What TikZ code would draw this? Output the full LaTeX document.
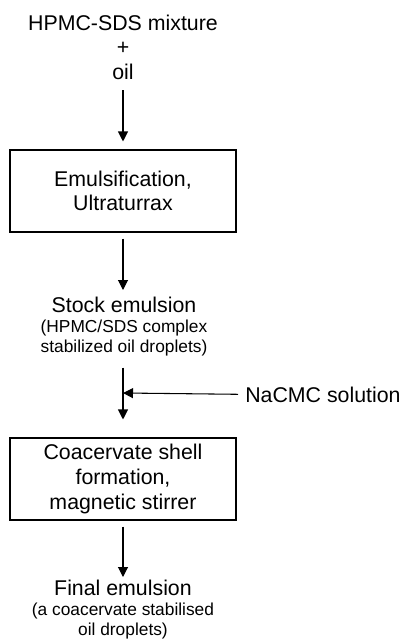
\documentclass[tikz,border=0pt]{standalone}
\usepackage{fontspec}
\setmainfont{Liberation Sans}
\usetikzlibrary{arrows.meta}

\begin{document}
\begin{tikzpicture}[x=0.75pt,y=-0.75pt]
\tikzstyle{every node}+=[inner sep=0pt, align=center, font=\fontsize{16}{18.5}\selectfont]
\tikzstyle{stepbox}=[draw, line width=0.8pt, minimum width=169.5pt, minimum height=61.5pt]
\tikzstyle{smalltext}=[font=\fontsize{13}{15}\selectfont]
\tikzstyle{arr}=[line width=0.8pt, -{Triangle[length=7.5pt,width=7.5pt]}]
\useasboundingbox (0,0) rectangle (413,639);
\node [anchor=south] (src) at (123,80) {HPMC-SDS mixture\\+\\oil};
\node [stepbox] (emul) at (123,191) {Emulsification,\\Ultraturrax};
\node [smalltext, anchor=north] (stock) at (124,297) {{\fontsize{16}{15}\selectfont Stock emulsion}\\(HPMC/SDS complex\\stabilized oil droplets)};
\node [anchor=base west] (nacmc) at (245,402) {NaCMC solution};
\coordinate (join) at (123,393);
\node [stepbox] (coac) at (123,479) {Coacervate shell\\formation,\\magnetic stirrer};
\node [smalltext, anchor=north] (final) at (123,580) {{\fontsize{16}{15}\selectfont Final emulsion}\\(a coacervate stabilised\\oil droplets)};
% arrows
\draw [arr, shorten <=7.5pt, shorten >=6pt] (src.south) -- (emul.north);
\draw [arr, shorten <=4.5pt, shorten >=5.25pt] (emul.south) -- (emul.south |- stock.north);
\draw [arr, shorten <=8.25pt, shorten >=13.5pt] (emul.south |- stock.south) -- (coac.north);
\draw [arr, shorten <=5.25pt] (nacmc.west) -- (join);
\draw [arr, shorten <=4.5pt, shorten >=2.25pt] (coac.south) -- (final.north);
\end{tikzpicture}
\end{document}
